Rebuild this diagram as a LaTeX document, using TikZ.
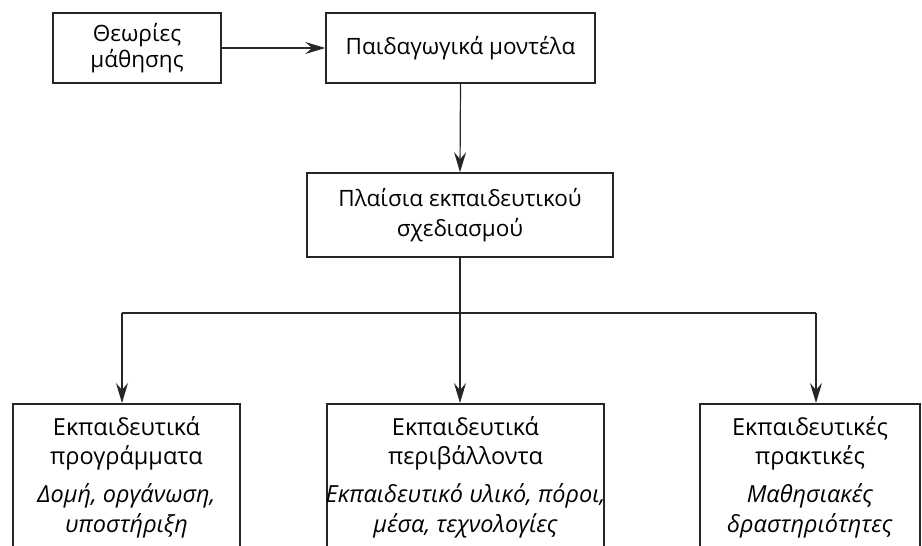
\documentclass[tikz,border=0pt]{standalone}
\usepackage{fontspec}
\setmainfont{Open Sans}
\usetikzlibrary{arrows.meta}
\begin{document}
\begin{tikzpicture}[x=1pt,y=-1pt,
  box/.style={draw=black!85,line width=1.6pt,rectangle,inner sep=0pt,
              align=center,font=\fontsize{22.5}{30}\selectfont},
  tall/.style={draw=black!85,line width=1.6pt,rectangle,inner sep=0pt},
  txt/.style={align=center,inner sep=0pt,anchor=north,font=\fontsize{23.5}{29.5}\selectfont},
  link/.style={draw=black!85,line width=1.2pt},
  arr/.style={link,-{Stealth[length=20pt,width=12pt,inset=7pt]}}]
\useasboundingbox (0,0) rectangle (922,546);
\clip (0,0) rectangle (922,546);
\fill[white] (0,0) rectangle (922,546);

% top row
\node[box,minimum width=168pt,minimum height=70pt,font=\fontsize{22.5}{26.5}\selectfont] (A) at (137,48) {Θεωρίες\\μάθησης};
\node[box,minimum width=269pt,minimum height=70pt] (B) at (460.5,48) {Παιδαγωγικά μοντέλα};
% design frameworks
\node[box,minimum width=306pt,minimum height=84pt] (C) at (460,215) {Πλαίσια εκπαιδευτικού\\σχεδιασμού};

% bottom row (boxes run past the lower edge)
\node[tall,minimum width=227pt,minimum height=170pt,anchor=north] (P1) at (126.5,403) {};
\node[tall,minimum width=277pt,minimum height=170pt,anchor=north] (P2) at (465.5,403) {};
\node[tall,minimum width=220pt,minimum height=170pt,anchor=north] (P3) at (810,403) {};

\node[txt] (T1) at ([yshift=-13pt]P1.north) {Εκπαιδευτικά\\προγράμματα\\[8.5pt]\textit{Δομή, οργάνωση,}\\\textit{υποστήριξη}};
\node[txt] (T2) at ([yshift=-13pt]P2.north) {Εκπαιδευτικά\\περιβάλλοντα\\[8.5pt]\textit{Εκπαιδευτικό υλικό, πόροι,}\\\textit{μέσα, τεχνολογίες}};
\node[txt] (T3) at ([yshift=-13pt]P3.north) {Εκπαιδευτικές\\πρακτικές\\[8.5pt]\textit{Μαθησιακές}\\\textit{δραστηριότητες}};

% connectors
\draw[arr] (A.east) -- (B.west);
\draw[arr] (B.south) -- (C.north);

\coordinate (J) at (460,313);
\coordinate (J1) at (122,313);
\coordinate (J3) at (816,313);
\draw[link] (C.south) -- (J);
\draw[link] (J1) -- (J3);
\draw[arr] (J1) -- (J1 |- P1.north);
\draw[arr] (J) -- (J |- P2.north);
\draw[arr] (J3) -- (J3 |- P3.north);
\end{tikzpicture}
\end{document}
